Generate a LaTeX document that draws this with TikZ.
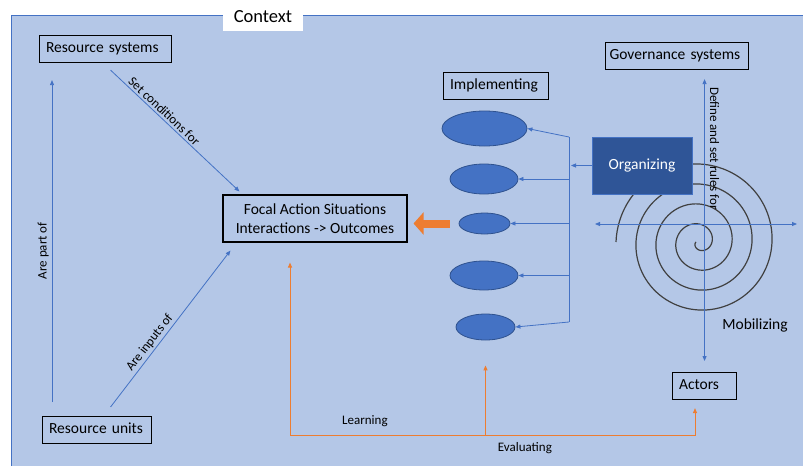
\documentclass[tikz,border=0pt]{standalone}
\usepackage{fontspec}
\setmainfont{Carlito}
\usetikzlibrary{arrows.meta,shapes.geometric,calc}
\definecolor{ctxfill}{HTML}{B4C7E7}
\definecolor{accent}{HTML}{4472C4}
\definecolor{darkfill}{HTML}{2F5597}
\definecolor{blobline}{HTML}{2F528F}
\definecolor{fborange}{HTML}{ED7D31}

\begin{document}
\begin{tikzpicture}[x=1pt,y=-1pt,>={Triangle[length=5pt,width=4pt]}]
\tikzstyle{box}=[draw=black,line width=1.1pt,inner xsep=6.5pt,inner ysep=6.25pt,text height=11pt,text depth=3.5pt,align=left,anchor=north west,font=\fontsize{15.5}{19}\selectfont]
\tikzstyle{blob}=[ellipse,draw=blobline,fill=accent,line width=0.8pt,inner sep=0pt]
\tikzstyle{link}=[accent,line width=0.8pt,->]
\tikzstyle{fb}=[fborange,line width=1pt,->]
\tikzstyle{lbl}=[text=black,font=\fontsize{13}{15}\selectfont,inner sep=2pt]
\useasboundingbox (0,0) rectangle (803,466);

\fill[ctxfill] (11,15) rectangle (803,466);
\draw[accent,line width=1pt] (11,466) -- (11,15) -- (803,15);
\node[fill=white,minimum width=80pt,minimum height=28pt,font=\fontsize{18.5}{22}\selectfont] (ctx) at (263,17) {Context};

\node[box,text width=119pt] (rs) at (39,35) {Resource systems};
\node[box,text width=96pt] (ru) at (42,416) {Resource units};
\node[box,text width=92pt] (impl) at (443,72) {Implementing};
\node[box,inner xsep=4pt,text width=135pt] (gov) at (605,42) {Governance systems};
\node[box,text width=51pt] (act) at (672,372) {Actors};
\node[draw=black,line width=1.1pt,minimum width=184pt,minimum height=47pt,align=center,font=\fontsize{15.5}{19}\selectfont] (fas) at (315,218.5) {Focal Action Situations\\Interactions -> Outcomes};

\node[blob,minimum width=85pt,minimum height=35pt] (e1) at (484.5,128.5) {};
\node[blob,minimum width=68pt,minimum height=30pt] (e2) at (484,179) {};
\node[blob,minimum width=51pt,minimum height=21pt] (e3) at (484.5,223.5) {};
\node[blob,minimum width=68pt,minimum height=29pt] (e4) at (484,275.5) {};
\node[blob,minimum width=59pt,minimum height=26pt] (e5) at (485.5,327) {};

\draw[black!75,line width=1.2pt,shift={(699,242)}] plot[domain=540:-900,samples=400,smooth] (\x:{23+(180-\x)/18});
\node[fill=darkfill,draw=accent,line width=0.8pt,minimum width=100pt,minimum height=57pt,text=white,font=\fontsize{15.5}{19}\selectfont] (org) at (642,165.5) {Organizing};
\node[font=\fontsize{15.5}{19}\selectfont] (mob) at (755,325) {Mobilizing};

\coordinate (axl) at (595,224);
\coordinate (axr) at (797,224);
\draw[link,<->] (axl) -- (axr);
\draw[link,<->,shorten <=9pt,shorten >=11pt] (gov.south -| act.north) -- node[lbl,pos=.26,rotate=-90,anchor=south,inner sep=5pt] {Define and set rules for} (act.north);

\coordinate (b1) at (569,137);
\coordinate (b5) at (569,322);
\draw[accent,line width=0.8pt] (b1) -- (b5);
\draw[link] (b1) -- (e1.east);
\draw[link] (e2.east -| b1) -- (e2.east);
\draw[link] (e3.east -| b1) -- (e3.east);
\draw[link] (e4.east -| b1) -- (e4.east);
\draw[link] (b5) -- (e5.east);
\draw[link,shorten >=2pt] (org.west) -- (org.west -| b1);

\draw[link] ($(rs.south)+(5,7)$) -- node[lbl,pos=.38,rotate=-43.4,anchor=south] {Set conditions for} ($(fas.north west)+(17,-3)$);
\draw[link] ($(ru.north west)+(10,-14)$) -- node[lbl,pos=.47,rotate=90,anchor=south,inner sep=3pt] {Are part of} ($(rs.south west)+(13,17)$);
\draw[link] ($(ru.north)+(13.5,-9)$) -- node[lbl,pos=.38,rotate=52.4,anchor=south] {Are inputs of} ($(fas.south west)+(8,8)$);

\draw[fborange,line width=8pt,-{Triangle[length=10pt,width=22pt]},shorten <=9pt,shorten >=6pt] (e3.west) -- (e3.west -| fas.east);

\coordinate (lc) at (290,435);
\coordinate (rc) at (695,435);
\draw[fb,shorten >=20pt] (lc) -- (lc |- fas.south);
\draw[fb,shorten >=8pt] (lc) -- node[lbl,pos=.185,above=6pt] {Learning} node[lbl,pos=.58,below=5pt] {Evaluating} (rc) -- (rc |- act.south);
\draw[fb,shorten >=25pt] (lc -| e5.south) -- (e5.south);
\end{tikzpicture}
\end{document}
